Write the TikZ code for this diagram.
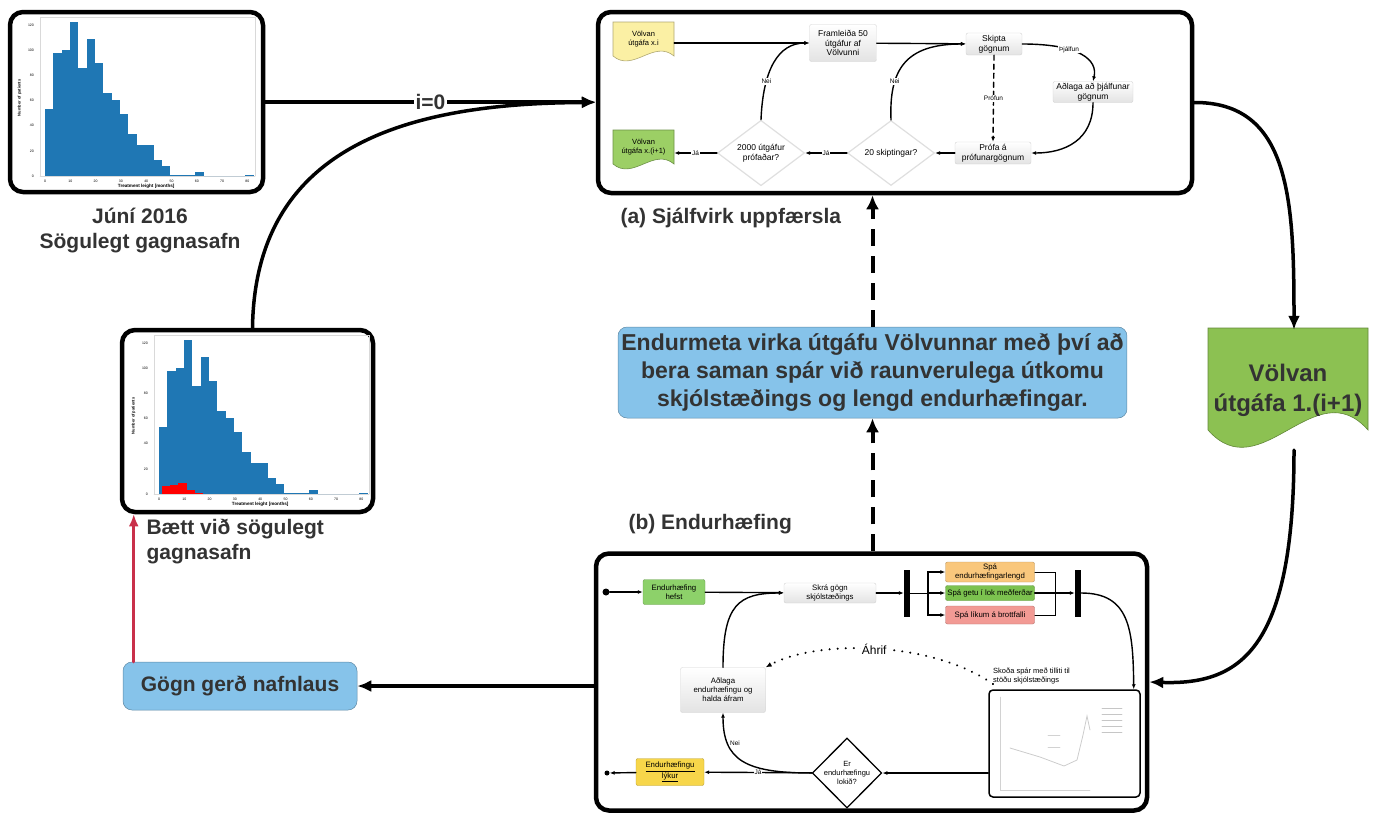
\documentclass[tikz,border=0pt]{standalone}
\usepackage{fontspec}
\setmainfont{Liberation Sans}
\usetikzlibrary{positioning,arrows.meta,calc,shapes.geometric}

\definecolor{histblue}{HTML}{1F77B4}
\definecolor{darktext}{HTML}{333333}
\definecolor{skyblue}{HTML}{86C3EA}
\definecolor{docyellow}{HTML}{FBF0A4}
\definecolor{docgreen}{HTML}{9CCF65}
\definecolor{biggreen}{HTML}{8CC152}
\definecolor{startgreen}{HTML}{8DD16A}
\definecolor{endyellow}{HTML}{F7D64A}
\definecolor{lenorange}{HTML}{F9C77C}
\definecolor{midgreen}{HTML}{7CC24F}
\definecolor{lossred}{HTML}{F29A94}
\definecolor{backred}{HTML}{C9304A}

% histogram of treatment length (axis units)
\newcommand\histplot{%
  \draw[gray!30,line width=0.3pt] (-2,0) -- (83,0) (-2,0) -- (-2,126) -- (83,126) -- (83,0);
  \foreach \h [count=\i from 0] in {53,98,100,122,86,109,90,66,60,49,33,25,25,13,8,1,1,1,3,0,0,0,0,0,1}
    \fill[histblue] (\i*3.3,0) rectangle ++(3.3,\h);
  \foreach \t in {0,10,...,80}
    \node[font=\fontsize{3.5}{4}\selectfont] at (\t,-4) {\t};
  \foreach \t in {0,20,...,120}
    \node[font=\fontsize{3.5}{4}\selectfont,anchor=east] at (-3,\t) {\t};
  \node[font=\bfseries\fontsize{4.6}{5}\selectfont] at (40,-8.5) {Treatment leight [months]};
  \node[font=\bfseries\fontsize{4}{5}\selectfont,rotate=90] at (-10,62) {Number of patients};
}

% document with wavy bottom: x1,y1,x2,y2,colour,wave
\newcommand\docshape[6]{%
  \filldraw[fill=#5,draw=#5!70!black,line width=0.6pt] (#1,#2) -- (#3,#2) -- (#3,#4)
    .. controls ($(#3,#4)!0.33!(#1,#4)+(0,-#6)$) and ($(#3,#4)!0.67!(#1,#4)+(0,#6)$) .. (#1,#4) -- cycle;}

\begin{document}
\begin{tikzpicture}[x=1pt,y=-1pt,line cap=round,
  panel/.style={draw,line width=4.5pt,rounded corners=13pt,inner sep=0},
  bigarrow/.style={line width=3.5pt,-{Latex[length=14pt,width=12pt]}},
  redarrow/.style={backred,line width=3pt,-{Latex[length=12pt,width=10pt]}},
  dasharrow/.style={line width=4pt,dash pattern=on 17pt off 10pt,line cap=butt,-{Latex[length=14pt,width=13pt]}},
  sarrow/.style={line width=1.4pt,-{Latex[length=5pt,width=4pt]}},
  biglabel/.style={font=\bfseries\fontsize{21}{25}\selectfont,text=darktext,align=center},
  bluebox/.style={fill=skyblue,draw=skyblue!70!black,line width=0.5pt,rounded corners=9pt,text=darktext,align=center},
  gbox/.style={draw=gray!35,top color=white,bottom color=gray!22,rounded corners=2pt,align=center,inner sep=1pt,font=\fontsize{8.5}{9.7}\selectfont},
  cbox/.style={draw=#1!75!black,fill=#1,rounded corners=2pt,align=center,inner sep=1pt,font=\fontsize{7.8}{9}\selectfont},
  doctext/.style={inner sep=0,align=center,font=\fontsize{7.5}{9}\selectfont},
  dec/.style={diamond,draw=gray!25,fill=white,line width=1.2pt,align=center,inner sep=0,font=\fontsize{8.5}{9.7}\selectfont},
  lab/.style={fill=white,inner sep=1pt,font=\fontsize{6.5}{7}\selectfont},
  bar/.style={fill=black,inner sep=0,minimum width=6pt,minimum height=47pt},
  dot/.style={circle,fill=black,inner sep=0,minimum size=7pt}]

\useasboundingbox (0,0) rectangle (1378,817);

% historical data sets
\node[panel,minimum width=253pt,minimum height=180pt] (hist) at (136.5,102) {};
\begin{scope}[shift={(45,176)},x=2.53pt,y=1.26pt]
  \histplot
\end{scope}
\node[biglabel] (junilbl) at (140,231) {Júní 2016\\Sögulegt gagnasafn};

\node[panel,minimum width=251pt,minimum height=182pt] (newhist) at (247.5,421) {};
\begin{scope}[shift={(159,494)},x=2.53pt,y=1.26pt]
  \histplot
  \foreach \h [count=\i from 0] in {6,7,9,3,1}
    \fill[red] (1+\i*3.3,0) rectangle ++(3.3,\h);
\end{scope}
\node[biglabel,align=left,anchor=west] (baett) at (143,542) {Bætt við sögulegt\\gagnasafn};

% (a) automatic update
\node[panel,minimum width=594pt,minimum height=181pt] (auto) at (895,102.5) {};
\node[biglabel,anchor=west] (autolbl) at (617,218) {(a) Sjálfvirk uppfærsla};

\docshape{613}{22}{674}{56}{docyellow}{17}
\node[doctext,minimum width=61pt,minimum height=34pt] (oldver) at (643.5,39) {Völvan\\útgáfa x.i};
\docshape{613}{130}{674}{164}{docgreen}{17}
\node[doctext,minimum width=61pt,minimum height=34pt] (nextver) at (643.5,147) {Völvan\\útgáfa x.(i+1)};
\node[gbox,minimum width=67pt,minimum height=37pt] (make) at (843,43) {Framleiða 50\\útgáfur af\\Völvunni};
\node[gbox,minimum width=56pt,minimum height=22pt] (split) at (994,44) {Skipta\\gögnum};
\node[gbox,minimum width=80pt,minimum height=21pt] (fit) at (1093,92) {Aðlaga að þjálfunar\\gögnum};
\node[gbox,minimum width=76pt,minimum height=22pt] (test) at (993,153) {Prófa á\\prófunargögnum};
\node[dec,minimum width=87pt,minimum height=65pt] (splits) at (891,153) {20 skiptingar?};
\node[dec,minimum width=87pt,minimum height=65pt] (versions) at (761,153) {2000 útgáfur\\prófaðar?};

\draw[sarrow] (oldver.east |- make) -- (make);
\draw[sarrow] (make) -- (split);
\draw[sarrow] (splits.north) .. controls (889,70) and (905,44) .. (split.west) node[lab,pos=0.3] {Nei};
\draw[sarrow] (versions.north) .. controls (763,70) and (778,43) .. (make.west) node[lab,pos=0.3] {Nei};
\draw[sarrow] (split.east) .. controls (1080,44) and (1098,60) .. (fit.north) node[lab,pos=0.35] {Þjálfun};
\draw[sarrow] (fit.south) .. controls (1093,140) and (1065,153) .. (test.east);
\draw[sarrow,dash pattern=on 5pt off 4pt] (split.south) -- node[lab] {Prófun} (test.north);
\draw[sarrow] (test.west) -- (splits.east);
\draw[sarrow] (splits.west) -- node[lab] {Já} (versions.east);
\draw[sarrow] (versions.west) -- node[lab] {Já} (nextver.east |- versions.west);

% new version and evaluation
\docshape{1208}{328}{1368}{430}{biggreen}{60}
\node[biglabel,font=\bfseries\fontsize{24}{30}\selectfont,minimum width=160pt,minimum height=120pt,inner sep=0] (newver) at (1288,390) {Völvan\\útgáfa 1.(i+1)};
\node[bluebox,minimum width=507pt,minimum height=91pt,font=\bfseries\fontsize{23}{28}\selectfont] (eval) at (872.5,372.5) {Endurmeta virka útgáfu Völvunnar með því að\\bera saman spár við raunverulega útkomu\\skjólstæðings og lengd endurhæfingar.};
\node[bluebox,minimum width=234pt,minimum height=48pt,font=\bfseries\fontsize{21}{25}\selectfont] (anon) at (240,686) {Gögn gerð nafnlaus};

% (b) rehabilitation
\node[panel,minimum width=551pt,minimum height=257pt] (rehab) at (871.5,682) {};
\node[biglabel,anchor=west] (rehablbl) at (625,524) {(b) Endurhæfing};

\node[dot] (start) at (606,592) {};
\node[cbox=startgreen,minimum width=62pt,minimum height=25pt] (begin) at (674,592) {Endurhæfing\\hefst};
\node[gbox,font=\fontsize{7.8}{9}\selectfont,minimum width=92pt,minimum height=20pt] (record) at (830,593) {Skrá gögn\\skjólstæðings};
\node[bar] (fork) at (907,593) {};
\node[cbox=lenorange,minimum width=89pt,minimum height=20pt] (plen) at (990,572) {Spá\\endurhæfingarlengd};
\node[cbox=midgreen,minimum width=89pt,minimum height=15pt] (pgain) at (990,593) {Spá getu í lok meðferðar};
\node[cbox=lossred,minimum width=89pt,minimum height=18pt] (pdrop) at (990,615) {Spá líkum á brottfalli};
\node[bar] (join) at (1078,593) {};
\coordinate (fx) at (928,593);
\coordinate (jx) at (1055,593);

\node[draw,line width=1.5pt,rounded corners=4pt,minimum width=151pt,minimum height=107pt] (plot) at (1064.5,743.5) {};
\draw[gray!35,line width=0.5pt] (1000,697) -- (1000,790) -- (1090,790);
\draw[gray!40,line width=0.8pt] (1010,748) -- (1040,757) -- (1064,766) -- (1077,760) -- (1083,735) -- (1087,716) -- (1090,730);
\draw[gray!35,line width=0.6pt] (1048,735) -- (1060,735) (1048,747) -- (1060,747);
\foreach \ly in {708,714,720,726,732}
  \draw[gray!45,line width=0.6pt] (1102,\ly) -- (1122,\ly);
\node[anchor=south west,align=left,inner sep=0,font=\fontsize{7.5}{9}\selectfont] (review) at (993,684) {Skoða spár með tilliti til\\stöðu skjólstæðings};

\node[diamond,draw,line width=1.3pt,fill=white,inner sep=0,align=center,font=\fontsize{7.5}{9}\selectfont,minimum width=64pt,minimum height=70pt] (done) at (847,773) {Er\\endurhæfingu\\lokið?};
\node[cbox=endyellow,minimum width=68pt,minimum height=27pt] (finish) at (670,772) {\underline{Endurhæfingu}\\\underline{lýkur}};
\node[dot,minimum size=5pt] (stop) at (607,773) {};
\node[gbox,font=\fontsize{7.8}{9}\selectfont,minimum width=85pt,minimum height=45pt] (adjust) at (723,690) {Aðlaga\\endurhæfingu og\\halda áfram};

\draw[sarrow] (start) -- (begin);
\draw[sarrow] (begin) -- (record);
\draw[sarrow] (record) -- (fork);
\draw (fork.east) -- (fx);
\draw[sarrow] (fx) |- (plen);
\draw[sarrow] (fx) -- (pgain);
\draw[sarrow] (fx) |- (pdrop);
\draw (plen) -| (jx);
\draw (pdrop) -| (jx);
\draw[sarrow] (pgain) -- (join);
\draw[sarrow] (join.east) .. controls (1130,593) and (1133,630) .. ([xshift=-7pt]plot.north east);
\draw[sarrow] (plot.west |- done) -- (done);
\draw[sarrow] (done) -- node[lab] {Já} (finish);
\draw[sarrow] (finish) -- (stop);
\draw[sarrow] (done.west) .. controls (745,773) and (723,760) .. (adjust.south);
\node[lab] (neilbl) at (735,743) {Nei};
\draw[sarrow] (adjust.north) .. controls (723,605) and (738,593) .. (record.west);
\draw[line width=2.2pt,dash pattern=on 0.1pt off 8pt,-{Latex[length=6pt,width=5pt]}] (review.south west) .. controls (930,640) and (815,640) .. (adjust.north east)
  node[pos=0.5,fill=white,inner sep=1pt,font=\fontsize{12}{13}\selectfont] {Áhrif};

% connectors between the parts
\draw[bigarrow] (hist.east) -- node[fill=white,biglabel,inner sep=2pt] {i=0} (hist.east -| auto.west);
\draw[bigarrow] ([xshift=5pt]newhist.north) .. controls (255,150) and (400,103) .. (auto.west);
\draw[bigarrow] (auto.east) .. controls (1290,102) and (1294,200) .. ([xshift=6pt]newver.north);
\draw[bigarrow] ([xshift=6pt]newver.south) .. controls (1294,650) and (1240,685) .. (rehab.east);
\draw[bigarrow] (rehab.west |- anon.east) -- (anon.east);
\coordinate (redfoot) at ([xshift=11pt]anon.north west);
\draw[redarrow] (redfoot) -- (redfoot |- newhist.south);
\draw[dasharrow] (eval.south |- rehab.north) -- (eval.south);
\draw[dasharrow] (eval.north) -- (eval.north |- auto.south);

\end{tikzpicture}
\end{document}
